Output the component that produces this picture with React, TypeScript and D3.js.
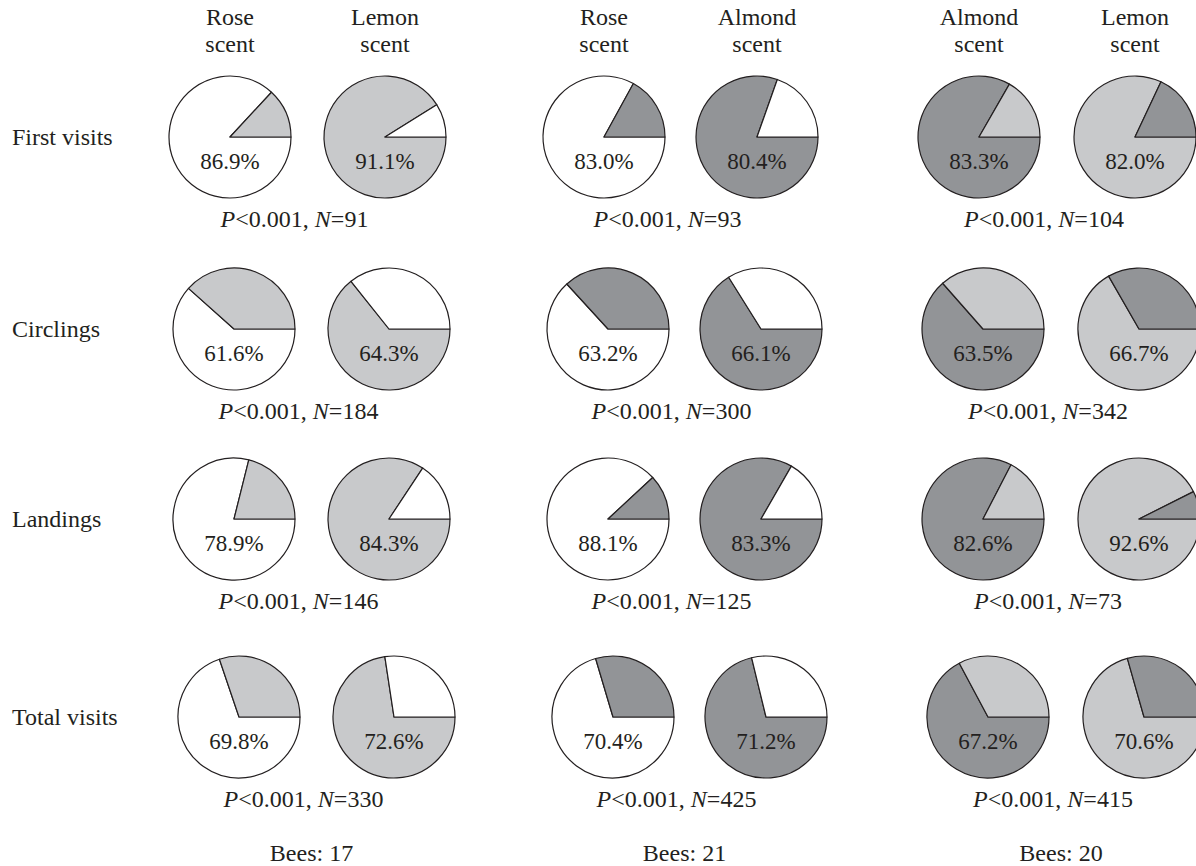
import React from "react";
import * as d3 from "d3";

// ---- data ----
const pairs: [string, string][] = [
  ["Rose", "Lemon"],
  ["Rose", "Almond"],
  ["Almond", "Lemon"],
];
const behaviours = ["First visits", "Circlings", "Landings", "Total visits"];
// percentage of choices for the scent named on top of each pie, [pair][first, second]
const firstVisits = [[86.9, 91.1], [83.0, 80.4], [83.3, 82.0]];
const circlings = [[61.6, 64.3], [63.2, 66.1], [63.5, 66.7]];
const landings = [[78.9, 84.3], [88.1, 83.3], [82.6, 92.6]];
const totalVisits = [[69.8, 72.6], [70.4, 71.2], [67.2, 70.6]];
const percentRows = [firstVisits, circlings, landings, totalVisits];
const nFirstVisits = [91, 93, 104];
const nCirclings = [184, 300, 342];
const nLandings = [146, 125, 73];
const nTotalVisits = [330, 425, 415];
const nRows = [nFirstVisits, nCirclings, nLandings, nTotalVisits];
const pValue = "0.001";
const bees = [17, 21, 20];

// ---- style / layout ----
const W = 1196;
const H = 866;
const scentColor: Record<string, string> = {
  Rose: "#ffffff",
  Lemon: "#c8c9cb",
  Almond: "#929497",
};
const ink = "#231f20";
const font = "'Liberation Serif', 'Times New Roman', serif";
const colX = [234, 389, 608, 761, 983, 1139];
const rowY = [137, 329, 519, 717];
const rowShift = [-4, 0, 0, 5];
const R = 61;

const pieGen = d3
  .pie<number>()
  .sort(null)
  .value((d) => d)
  .startAngle(Math.PI / 2)
  .endAngle(Math.PI / 2 + 2 * Math.PI);
const arcGen = d3.arc<d3.PieArcDatum<number>>().innerRadius(0).outerRadius(R);

export default function App() {
  return (
    <svg
      width={W}
      height={H}
      style={{ position: "absolute", left: 0, top: 0, background: "#fff" }}
      fontFamily={font}
    >
      {/* column headers */}
      {pairs.map((pair, pi) =>
        pair.map((scent, si) => {
          const x = colX[pi * 2 + si] + rowShift[0];
          return (
            <text key={`h${pi}${si}`} x={x} textAnchor="middle" fontSize={24} fill={ink}>
              <tspan x={x} y={25}>{scent}</tspan>
              <tspan x={x} y={52}>scent</tspan>
            </text>
          );
        })
      )}

      {/* row labels */}
      {behaviours.map((b, ri) => (
        <text key={`r${ri}`} x={12} y={rowY[ri] + 8} fontSize={24} fill={ink}>
          {b}
        </text>
      ))}

      {/* pies */}
      {percentRows.map((row, ri) =>
        row.map((vals, pi) =>
          vals.map((p, si) => {
            const cx = colX[pi * 2 + si] + rowShift[ri];
            const cy = rowY[ri];
            const own = pairs[pi][si];
            const other = pairs[pi][1 - si];
            const arcs = pieGen([p, 100 - p]);
            return (
              <g key={`p${ri}${pi}${si}`} transform={`translate(${cx},${cy})`}>
                {arcs.map((a, k) => (
                  <path
                    key={k}
                    d={arcGen(a) || ""}
                    fill={k === 0 ? scentColor[own] : scentColor[other]}
                    stroke={ink}
                    strokeWidth={1.2}
                    strokeLinejoin="round"
                  />
                ))}
                <text y={32} textAnchor="middle" fontSize={23} fill={ink}>
                  {p.toFixed(1)}%
                </text>
              </g>
            );
          })
        )
      )}

      {/* statistics lines */}
      {nRows.map((ns, ri) =>
        ns.map((n, pi) => {
          const x = (colX[pi * 2] + colX[pi * 2 + 1]) / 2 + rowShift[ri] - 13;
          return (
            <text key={`s${ri}${pi}`} x={x} y={rowY[ri] + 90} textAnchor="middle" fontSize={24} fill={ink}>
              <tspan fontStyle="italic">P</tspan>
              <tspan>{`<${pValue}, `}</tspan>
              <tspan fontStyle="italic">N</tspan>
              <tspan>{`=${n}`}</tspan>
            </text>
          );
        })
      )}

      {/* bees */}
      {bees.map((b, pi) => (
        <text
          key={`b${pi}`}
          x={(colX[pi * 2] + colX[pi * 2 + 1]) / 2}
          y={861}
          textAnchor="middle"
          fontSize={24}
          fill={ink}
        >
          {`Bees: ${b}`}
        </text>
      ))}
    </svg>
  );
}
